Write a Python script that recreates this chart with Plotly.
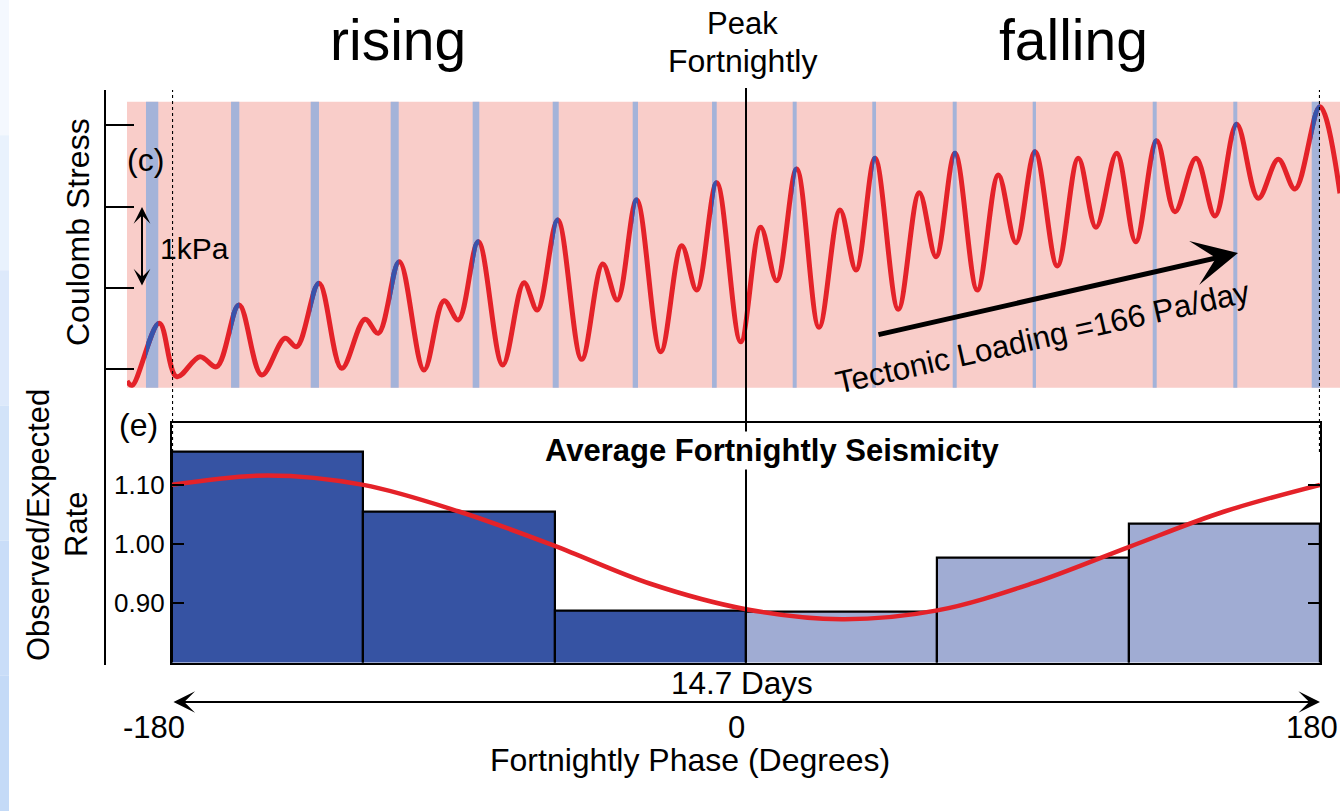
import plotly.graph_objects as go

W, H = 1340, 811
FONT = "Liberation Sans, Arial, Helvetica, sans-serif"

# ---------------- Coulomb stress time series (turning points) ----------------
# time in days relative to the fortnightly peak, stress in kPa
stress_days = [
    -7.926, -7.862, -7.513, -7.290, -6.992, -6.778, -6.492, -6.201, -5.903, -5.753,
    -5.468, -5.177, -4.879, -4.708, -4.439, -4.123, -3.867, -3.684, -3.428, -3.115,
    -2.843, -2.672, -2.411, -2.104, -1.835, -1.648, -1.400, -1.092, -0.823, -0.631,
    -0.375, -0.068, 0.188, 0.393, 0.649, 0.935, 1.204, 1.409, 1.652, 1.950,
    2.219, 2.433, 2.676, 2.962, 3.231, 3.457, 3.701, 3.986, 4.255, 4.482,
    4.747, 4.990, 5.259, 5.493, 5.762, 6.006, 6.283, 6.560, 6.816, 7.030,
    7.350, 7.606,
]
stress_kpa = [
    -0.144, -0.199, 0.565, -0.091, 0.155, 0.032, 0.790, -0.070, 0.381, 0.278,
    1.057, 0.012, 0.614, 0.442, 1.322, -0.009, 0.843, 0.606, 1.568, 0.053,
    1.064, 0.729, 1.834, 0.123, 1.294, 0.851, 2.080, 0.216, 1.518, 0.974,
    2.292, 0.339, 1.744, 1.088, 2.461, 0.516, 1.957, 1.220, 2.592, 0.737,
    2.170, 1.383, 2.654, 0.974, 2.387, 1.555, 2.673, 1.269, 2.592, 1.744,
    2.654, 1.568, 2.808, 1.936, 2.592, 1.883, 3.010, 2.101, 2.580, 2.215,
    3.226, 2.162,
]

# windows leading into each daily stress maximum (days)
window_start = [-7.683, -6.594, -5.574, -4.550, -3.500, -2.475, -1.451, -0.435,
                0.598, 1.617, 2.647, 3.671, 5.208, 6.240, 7.244]
window_end = [-7.526, -6.488, -5.468, -4.447, -3.415, -2.398, -1.383, -0.375,
              0.649, 1.665, 2.698, 3.713, 5.259, 6.291, 7.350]

# ---------------- Average fortnightly seismicity ----------------
phase_bins = [-150, -90, -30, 30, 90, 150]
rate_ratio = [1.156, 1.054, 0.887, 0.885, 0.977, 1.035]

fit_phase = [-180, -150, -120, -90, -60, -30, 0, 30, 60, 90, 120, 150, 180]
fit_rate = [1.100, 1.116, 1.100, 1.055, 0.997, 0.933, 0.890, 0.873, 0.888,
            0.934, 0.995, 1.055, 1.100]

phase_ticks = [-180, 0, 180]

# ---------------- colours ----------------
RED = "#e42229"
BLUE = "#3853ab"
PINK = "#f9cdc9"
STRIPE = "#a4b3d9"
BAR_RISE = "#3653a3"
BAR_FALL = "#a0acd3"


def px(x):
    return x / W


def py(y):
    return 1 - y / H


# pixel geometry of the two panels
PPD = 1148 / 14.7          # pixels per day on the stress panel
X0_PIX = 746               # fortnightly peak
top_dom = [px(127), 1.0]
top_rng = [(127 - X0_PIX) / PPD, (1340 - X0_PIX) / PPD]
KPA_PIX = 81.4
ZERO_PIX = 369.3
top_ydom = [py(387.7), py(101.7)]
top_yrng = [(ZERO_PIX - 387.7) / KPA_PIX, (ZERO_PIX - 101.7) / KPA_PIX]


def day_to_paper(d):
    f = (d - top_rng[0]) / (top_rng[1] - top_rng[0])
    return top_dom[0] + f * (top_dom[1] - top_dom[0])


def pix_to_day(x):
    return (x - X0_PIX) / PPD


def pix_to_kpa(y):
    return (ZERO_PIX - y) / KPA_PIX


fig = go.Figure()

# histogram bars
fig.add_trace(go.Bar(
    x=phase_bins, y=rate_ratio, width=60,
    marker=dict(color=[BAR_RISE if p < 0 else BAR_FALL for p in phase_bins],
                line=dict(color="black", width=2.2)),
    xaxis="x", yaxis="y", showlegend=False, hoverinfo="skip",
))
# fitted sinusoid
fig.add_trace(go.Scatter(
    x=fit_phase, y=fit_rate, mode="lines",
    line=dict(color=RED, width=4.5, shape="spline"),
    xaxis="x", yaxis="y", showlegend=False, hoverinfo="skip",
))
# stress curve
fig.add_trace(go.Scatter(
    x=stress_days, y=stress_kpa, mode="lines",
    line=dict(color=RED, width=5, shape="spline", simplify=False),
    xaxis="x2", yaxis="y2", showlegend=False, hoverinfo="skip",
))

layout_axes = {}
# blue portions of the stress curve: same curve, clipped to each window
for i, (s, e) in enumerate(zip(window_start, window_end)):
    n = 3 + i
    idx = [j for j, d in enumerate(stress_days) if s - 0.6 <= d <= e + 0.6]
    lo = max(min(idx) - 2, 0)
    hi = min(max(idx) + 3, len(stress_days))
    layout_axes[f"xaxis{n}"] = dict(domain=[day_to_paper(s), day_to_paper(e)],
                                    range=[s, e], anchor="y2", visible=False)
    fig.add_trace(go.Scatter(
        x=stress_days[lo:hi], y=stress_kpa[lo:hi], mode="lines",
        line=dict(color=BLUE, width=5, shape="spline", simplify=False),
        xaxis=f"x{n}", yaxis="y2", showlegend=False, hoverinfo="skip",
    ))

shapes = []
# slide edge tint
tints = ["#f4f8fe", "#e9f2fd", "#dde9fb", "#d2e3f9", "#c9ddf8", "#c4daf7"]
for k, c in enumerate(tints):
    shapes.append(dict(type="rect", xref="paper", yref="paper",
                       x0=0, x1=px(9), y0=1 - (k + 1) / len(tints), y1=1 - k / len(tints),
                       fillcolor=c, line=dict(width=0), layer="below"))
# stress panel background and windows
shapes.append(dict(type="rect", xref="x2 domain", yref="y2 domain", x0=0, x1=1, y0=0, y1=1,
                   fillcolor=PINK, line=dict(width=0), layer="below"))
for s, e in zip(window_start, window_end):
    shapes.append(dict(type="rect", xref="x2", yref="y2 domain", x0=s, x1=e, y0=0, y1=1,
                       fillcolor=STRIPE, line=dict(width=0), layer="below"))
# long left axis line
shapes.append(dict(type="line", xref="paper", yref="paper", x0=px(105), x1=px(105),
                   y0=py(90), y1=py(665), line=dict(color="black", width=2)))
# peak fortnightly marker
shapes.append(dict(type="line", xref="x", yref="paper", x0=0, x1=0,
                   y0=py(662.5), y1=py(88), line=dict(color="black", width=2), layer="above"))
# dotted phase limits
for p in (-180, 180):
    shapes.append(dict(type="line", xref="x", yref="paper", x0=p, x1=p,
                       y0=py(452), y1=py(90), line=dict(color="black", width=2.2, dash="dot"),
                       layer="above"))

ann = []


def text(t, x, y, size=31, angle=0, bold=False, **kw):
    if bold:
        t = f"<b>{t}</b>"
    d = dict(text=t, x=x, y=y, xref="paper", yref="paper", showarrow=False,
             font=dict(family=FONT, size=size, color="black"), textangle=angle,
             xanchor="center", yanchor="middle")
    d.update(kw)
    ann.append(d)


text("rising", px(398), py(40), size=57)
text("falling", px(1073), py(40), size=57)
text("Peak", px(742), py(24), size=31)
text("Fortnightly", px(742), py(61), size=32, bgcolor="white")
text("(c)", px(145), py(160), size=32)
text("1kPa", px(194), py(248), size=30)
text("Coulomb Stress", px(78), py(232), size=32, angle=-90)
text("(e)", px(138), py(425), size=32)
text("Observed/Expected", px(38), py(525), size=31, angle=-90)
text("Rate", px(76), py(525), size=31, angle=-90)
text("Average Fortnightly Seismicity", px(772), py(451), size=31, bold=True, bgcolor="white")
text("14.7 Days", px(742), py(683), size=31.5)
text("Fortnightly Phase (Degrees)", px(690), py(760), size=32)
text("Tectonic Loading =166 Pa/day", px(1042), py(337), size=31.5, angle=-12.6)

# phase tick labels
shifts = {-180: -18, 0: -10, 180: -8}
for p in phase_ticks:
    ann.append(dict(text=str(p), x=p, y=py(727), xref="x", yref="paper", showarrow=False,
                    xshift=shifts[p], font=dict(family=FONT, size=31, color="black"),
                    xanchor="center", yanchor="middle"))

# arrows
ann.append(dict(text="", x=pix_to_day(1238), y=pix_to_kpa(253), xref="x2", yref="y2",
                ax=pix_to_day(877), ay=pix_to_kpa(335), axref="x2", ayref="y2",
                showarrow=True, arrowhead=3, arrowsize=1.5, arrowwidth=5,
                arrowcolor="black", standoff=0))
ann.append(dict(text="", x=pix_to_day(142), y=pix_to_kpa(207), xref="x2", yref="y2",
                ax=pix_to_day(142), ay=pix_to_kpa(287), axref="x2", ayref="y2",
                showarrow=True, arrowhead=3, startarrowhead=3, arrowside="end+start",
                arrowsize=1.4, startarrowsize=1.4, arrowwidth=2,
                arrowcolor="black", standoff=0, startstandoff=0))
ann.append(dict(text="", x=180, y=py(702), xref="x", yref="paper",
                ax=-180, ay=0, axref="x", ayref="pixel",
                showarrow=True, arrowhead=3, startarrowhead=3, arrowside="end+start",
                arrowsize=1.8, startarrowsize=1.8, arrowwidth=2,
                arrowcolor="black", standoff=0, startstandoff=0))

fig.update_layout(
    width=W, height=H, margin=dict(l=0, r=0, t=0, b=0),
    paper_bgcolor="white", plot_bgcolor="rgba(0,0,0,0)",
    showlegend=False, bargap=0,
    font=dict(family=FONT, color="black"),
    xaxis=dict(domain=[px(172), px(1320)], range=[-180, 180], anchor="y",
               showline=True, mirror=True, linecolor="black", linewidth=2.2,
               ticks="", showticklabels=False, showgrid=False, zeroline=False),
    yaxis=dict(domain=[py(662.5), py(422.7)], range=[0.80, 1.205], anchor="x",
               showline=True, mirror="ticks", linecolor="black", linewidth=2.2,
               ticks="inside", ticklen=12, tickwidth=2, tickcolor="black",
               tickvals=[0.9, 1.0, 1.1], ticktext=["0.90", "1.00", "1.10"],
               tickfont=dict(family=FONT, size=26), showgrid=False, zeroline=False),
    xaxis2=dict(domain=top_dom, range=top_rng, anchor="y2", visible=False),
    yaxis2=dict(domain=top_ydom, range=top_yrng, anchor="free", position=px(105),
                showline=False, ticks="inside", ticklen=28, tickwidth=2, tickcolor="black",
                tickvals=[0, 1, 2, 3], showticklabels=False, showgrid=False, zeroline=False),
    shapes=shapes, annotations=ann,
    **layout_axes,
)

fig.write_html("out.html")
